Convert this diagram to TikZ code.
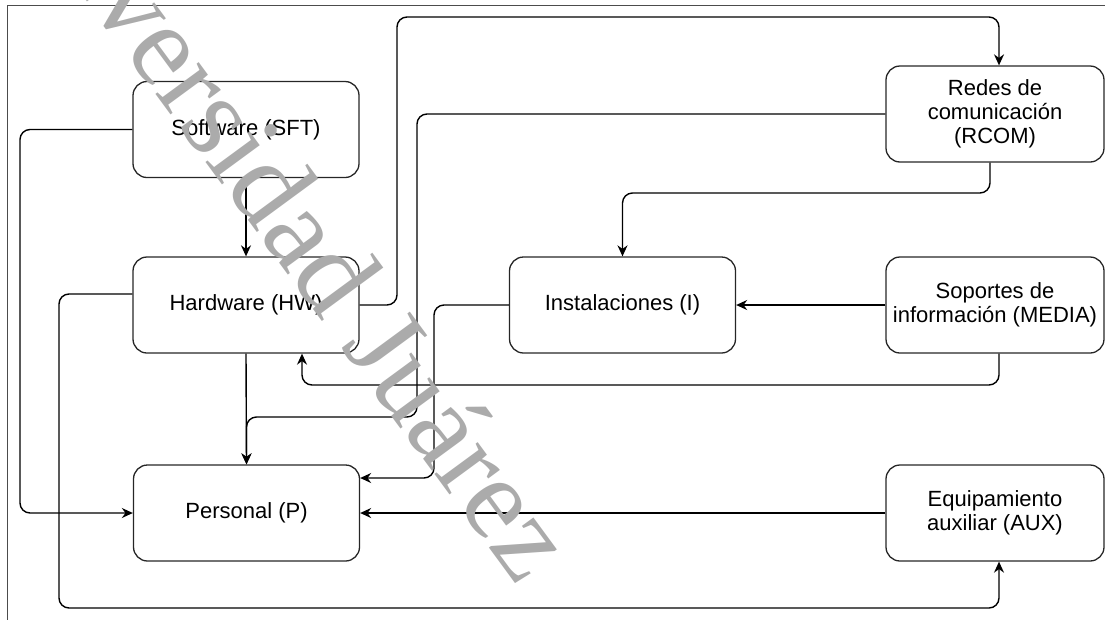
\documentclass[tikz,border=0pt]{standalone}
\usepackage{fontspec}
\setmainfont{Liberation Sans}
\newfontfamily\wmfont{Liberation Serif}
\usetikzlibrary{arrows.meta,calc}
\begin{document}
\begin{tikzpicture}[x=1pt,y=-1pt,
  box/.style={draw=black!85, line width=1.3pt, rounded corners=14pt, minimum width=226pt, minimum height=96pt, align=center, font=\fontsize{22}{24}\selectfont, inner sep=0pt},
  conn/.style={draw=black, line width=1.4pt, rounded corners=10pt, -{Stealth[length=11pt,width=10pt]}},
  frame/.style={draw=black!70, line width=1pt},
  wm/.style={text=black!33, font=\wmfont\fontsize{117}{117}\selectfont, inner sep=0pt}
]
\useasboundingbox (0,0) rectangle (1105,619);
\begin{scope}
\clip (0,0) rectangle (1105,619);
\draw[frame] (1120,5) -- (7,5) -- (7,630);

\node[box] (sft) at (246,129.5) {Software (SFT)};
\node[box] (hw) at (246,305) {Hardware (HW)};
\node[box] (p) at (246.5,513) {Personal (P)};
\node[box] (i) at (622.5,305) {Instalaciones (I)};
\node[box, minimum width=218pt] (rcom) at (995,114) {Redes de\\comunicación\\(RCOM)};
\node[box, minimum width=218pt] (media) at (995,305) {Soportes de\\información (MEDIA)};
\node[box, minimum width=218pt] (aux) at (995,513) {Equipamiento\\auxiliar (AUX)};

% SFT -> P
\draw[conn] (sft.west) -- (20,129.5) -- (20,513) -- (p.west);
% SFT -> HW
\draw[conn] (sft.south) -- (hw.north);
% HW -> RCOM
\draw[conn] (hw.east) -- (397,305) -- (397,17) -- (999,17) -- ([xshift=4pt]rcom.north);
% HW -> AUX
\draw[conn] ([yshift=11pt]hw.west) -- (59,294) -- (59,608) -- (999,608) -- ([xshift=4pt]aux.south);
% RCOM -> P
\draw[conn] (rcom.west) -- (417,114) -- (417,417) -- (246.5,417) -- (p.north);
% HW -> P
\draw[conn] (hw.south) -- (p.north);
% RCOM -> I
\draw[conn] ([xshift=-5pt]rcom.south) -- (990,193) -- (622.5,193) -- (i.north);
% I -> P
\draw[conn] (i.west) -- (434,305) -- (434,478) -- ([yshift=35pt]p.east);
% MEDIA -> I
\draw[conn] (media.west) -- (i.east);
% MEDIA -> HW
\draw[conn] ([xshift=4pt]media.south) -- (999,385) -- (302,385) -- ([xshift=56pt]hw.south);
% AUX -> P
\draw[conn] (aux.west) -- (p.east);

% watermark
\node[wm, rotate=-53.7, anchor=mid east] (mark) at (520,586) {Universidad Juárez};
\end{scope}
\end{tikzpicture}
\end{document}
